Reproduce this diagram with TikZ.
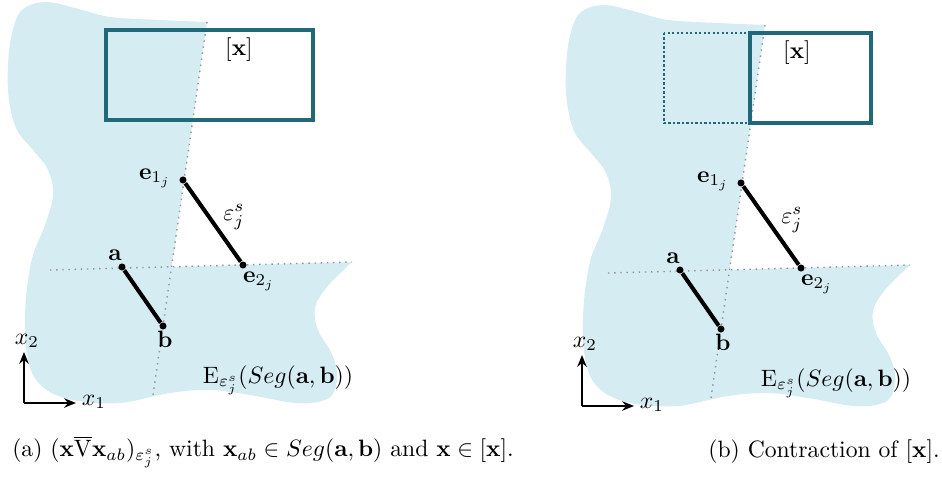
\documentclass[tikz,border=0pt]{standalone}
\usepackage{amsmath}
\usetikzlibrary{arrows.meta, positioning}
\definecolor{blobblue}{RGB}{214,236,243}
\definecolor{boxteal}{RGB}{33,104,120}
\tikzstyle{blob} = [fill=blobblue, draw=none]
\tikzstyle{pt} = [circle, fill=black, inner sep=0pt, minimum size=3pt]
\tikzstyle{seg} = [line width=1.7pt]
\tikzstyle{guide} = [dotted, draw=gray!85, line width=0.6pt]
\tikzstyle{xbox} = [draw=boxteal, line width=1.4pt]
\tikzstyle{xboxold} = [draw=boxteal, densely dotted, line width=0.9pt]
\tikzstyle{axis} = [thick, -{Stealth[length=5pt, width=4pt]}]

\begin{document}
\begin{tikzpicture}[x=0.4225pt, y=-0.4225pt, every node/.style={font=\normalsize}]
    \useasboundingbox (0,0) rectangle (942,477);

    % (a) left panel
    \begin{scope}
        \fill[blob] (207,22) -- (171.6,266.8) -- (352,262) -- plot[smooth, tension=0.6] coordinates {(352,262) (327,287) (315,308) (318,330) (331,352) (337,372) (334,392) (322,401) (295,403) (250,395) (210,390) (170,393) (120,403) (78,401) (50,392) (33,375) (26,348) (25,318) (27,288) (33,255) (45,225) (53,195) (48,170) (33,150) (17,130) (9,100) (8,65) (12,33) (22,10) (45,2) (75,8) (100,15) (120,18) (160,20) (207,22)} -- cycle;
        \draw[guide] (207,22) -- (153,395);
        \draw[guide] (50,270) -- (352,262);
        \draw[xbox] (106,30) rectangle (313,120);
        \node (boxa) at (239,50) {$[\mathbf{x}]$};

        \node[pt] (a1) at (122,267) {};
        \node[pt] (b1) at (163,326) {};
        \node[pt] (e11) at (183,180) {};
        \node[pt] (e21) at (243,265) {};
        \draw[seg] (a1) -- (b1);
        \draw[seg] (e11) -- (e21);
        \node (la1) at (115,255) {$\mathbf{a}$};
        \node (lb1) at (165,339) {$\mathbf{b}$};
        \node (le11) at (155,178) {$\mathbf{e}_{1_j}$};
        \node (le21) at (259,281) {$\mathbf{e}_{2_j}$};
        \node (leps1) at (234,217) {$\varepsilon_j^s$};
        \node (lE1) at (278,380) {$\mathrm{E}_{\varepsilon_j^s}(Seg(\mathbf{a},\mathbf{b}))$};

        \coordinate (o1) at (24,403);
        \coordinate (x11) at (76,403);
        \coordinate (x21) at (24,352);
        \draw[axis] (o1) -- (x11);
        \draw[axis] (o1) -- (x21);
        \node (lx11) at (94,402) {$x_1$};
        \node (lx21) at (27,341) {$x_2$};
    \end{scope}

    % (b) right panel
    \begin{scope}[shift={(558,3)}]
        \fill[blob] (207,22) -- (171.6,266.8) -- (352,262) -- plot[smooth, tension=0.6] coordinates {(352,262) (327,287) (315,308) (318,330) (331,352) (337,372) (334,392) (322,401) (295,403) (250,395) (210,390) (170,393) (120,403) (78,401) (50,392) (33,375) (26,348) (25,318) (27,288) (33,255) (45,225) (53,195) (48,170) (33,150) (17,130) (9,100) (8,65) (12,33) (22,10) (45,2) (75,8) (100,15) (120,18) (160,20) (207,22)} -- cycle;
        \draw[guide] (207,22) -- (153,395);
        \draw[guide] (50,270) -- (352,262);
        \draw[xboxold] (106,30) rectangle (192,120);
        \draw[xbox] (192,30) rectangle (313,120);
        \node (boxb) at (239,50) {$[\mathbf{x}]$};

        \node[pt] (a2) at (122,267) {};
        \node[pt] (b2) at (163,326) {};
        \node[pt] (e12) at (183,180) {};
        \node[pt] (e22) at (243,265) {};
        \draw[seg] (a2) -- (b2);
        \draw[seg] (e12) -- (e22);
        \node (la2) at (115,255) {$\mathbf{a}$};
        \node (lb2) at (165,339) {$\mathbf{b}$};
        \node (le12) at (155,178) {$\mathbf{e}_{1_j}$};
        \node (le22) at (259,281) {$\mathbf{e}_{2_j}$};
        \node (leps2) at (234,217) {$\varepsilon_j^s$};
        \node (lE2) at (278,380) {$\mathrm{E}_{\varepsilon_j^s}(Seg(\mathbf{a},\mathbf{b}))$};

        \coordinate (o2) at (24,403);
        \coordinate (x12) at (76,403);
        \coordinate (x22) at (24,352);
        \draw[axis] (o2) -- (x12);
        \draw[axis] (o2) -- (x22);
        \node (lx12) at (94,402) {$x_1$};
        \node (lx22) at (27,341) {$x_2$};
    \end{scope}

    % captions
    \node (capa) at (263,452) {(a) $(\mathbf{x}\overline{\mathrm{V}}\mathbf{x}_{ab})_{\varepsilon_j^s}$, with $\mathbf{x}_{ab} \in Seg(\mathbf{a},\mathbf{b})$ and $\mathbf{x} \in [\mathbf{x}]$.};
    \node (capb) at (824,452) {(b) Contraction of $[\mathbf{x}]$.};
\end{tikzpicture}
\end{document}
